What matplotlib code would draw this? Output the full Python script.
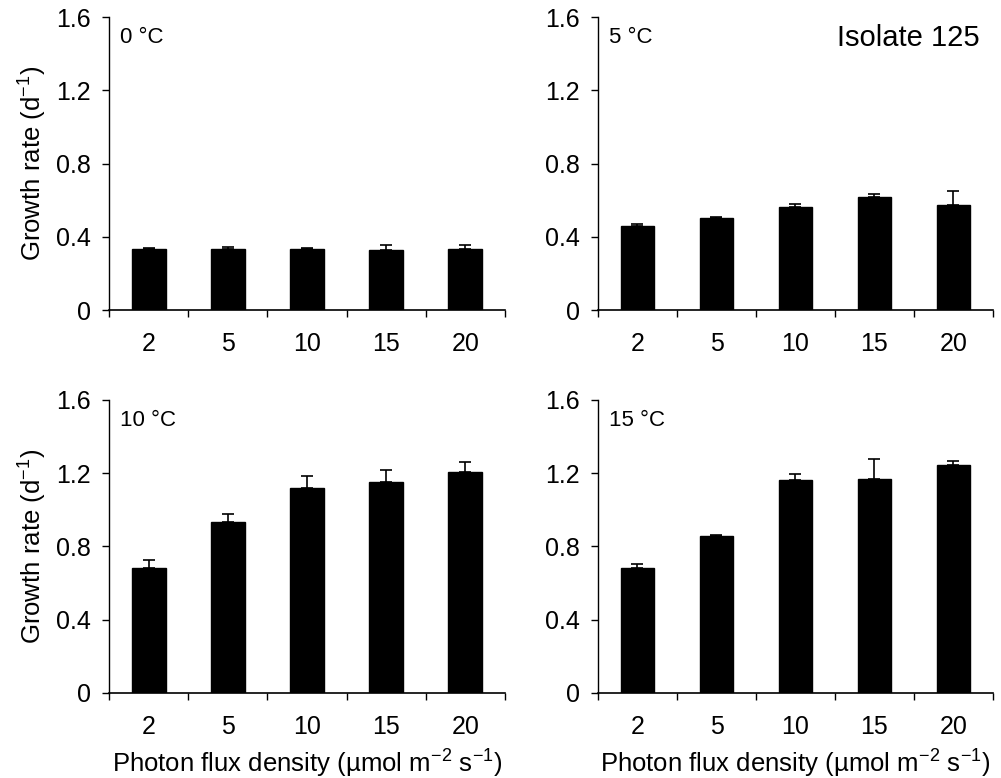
import matplotlib

matplotlib.use("Agg")
import matplotlib.pyplot as plt
import numpy as np

plt.rcParams["font.family"] = "Liberation Sans"
plt.rcParams["mathtext.fontset"] = "custom"
plt.rcParams["mathtext.rm"] = "Liberation Sans"
plt.rcParams["mathtext.default"] = "regular"

# data
pfd_labels = ["2", "5", "10", "15", "20"]
temps = ["0 °C", "5 °C", "10 °C", "15 °C"]

rate_0 = [0.336, 0.336, 0.336, 0.330, 0.336]
err_0 = [0.005, 0.010, 0.005, 0.025, 0.020]
rate_5 = [0.458, 0.505, 0.565, 0.615, 0.573]
err_5 = [0.011, 0.004, 0.013, 0.018, 0.078]
rate_10 = [0.680, 0.931, 1.121, 1.154, 1.208]
err_10 = [0.045, 0.049, 0.062, 0.064, 0.051]
rate_15 = [0.680, 0.856, 1.161, 1.166, 1.246]
err_15 = [0.024, 0.009, 0.036, 0.111, 0.018]

rates = [rate_0, rate_5, rate_10, rate_15]
errs = [err_0, err_5, err_10, err_15]

fig = plt.figure(figsize=(10.01, 7.78), dpi=100)

# panel boxes in figure fractions: left, bottom, width, height
boxes = [
    [0.1089, 0.6015, 0.3956, 0.3766],
    [0.5974, 0.6015, 0.3946, 0.3766],
    [0.1089, 0.1093, 0.3956, 0.3766],
    [0.5974, 0.1093, 0.3946, 0.3766],
]

x = np.arange(len(pfd_labels))

for i, (box, temp, rate, err) in enumerate(zip(boxes, temps, rates, errs)):
    ax = fig.add_axes(box)
    ax.bar(x, rate, width=0.43, color="black", edgecolor="black", zorder=2)
    ax.errorbar(
        x,
        rate,
        yerr=[np.zeros(len(err)), err],
        fmt="none",
        ecolor="black",
        elinewidth=1.2,
        capsize=4,
        capthick=1.2,
        zorder=3,
    )

    ax.set_xlim(-0.5, len(x) - 0.5)
    ax.set_ylim(0, 1.6)
    ax.set_yticks([0, 0.4, 0.8, 1.2, 1.6])
    ax.set_yticklabels(["0", "0.4", "0.8", "1.2", "1.6"])

    ax.set_xticks(np.arange(-0.5, len(x), 1.0))
    ax.set_xticklabels([])
    ax.set_xticks(x, minor=True)
    ax.set_xticklabels(pfd_labels, minor=True)
    ax.tick_params(axis="x", which="major", direction="out", length=5, width=1)
    ax.tick_params(axis="x", which="minor", length=0, pad=16, labelsize=18)
    ax.tick_params(axis="y", direction="out", length=5, width=1, labelsize=18, pad=8)

    for side in ["top", "right"]:
        ax.spines[side].set_visible(False)
    ax.spines["left"].set_linewidth(1)
    ax.spines["bottom"].set_linewidth(1.2)

    ax.text(0.028, 0.93, temp, transform=ax.transAxes, fontsize=16, va="center", ha="left")

    if i % 2 == 0:
        ax.set_ylabel("Growth rate (d$^{-1}$)", fontsize=18.5, labelpad=5)
    if i >= 2:
        ax.set_xlabel("Photon flux density (µmol m$^{-2}$ s$^{-1}$)", fontsize=18.5, labelpad=6)
    if i == 1:
        ax.text(0.967, 0.93, "Isolate 125", transform=ax.transAxes, fontsize=21, va="center", ha="right")

fig.savefig("out.png", dpi=100)
